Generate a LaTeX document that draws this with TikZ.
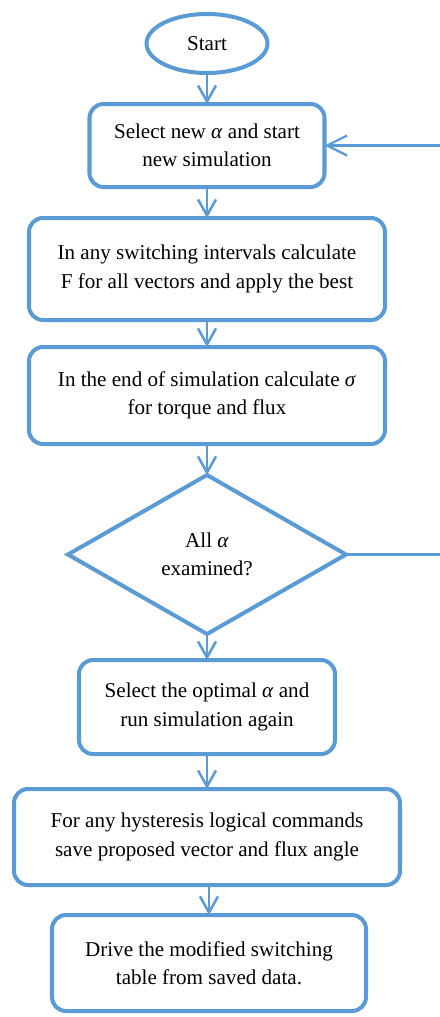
\documentclass[tikz,border=0pt]{standalone}
\usepackage{fontspec}
\setmainfont{Liberation Serif}
\usetikzlibrary{positioning, shapes.geometric, arrows.meta}
\definecolor{flowblue}{HTML}{5B9BD5}

\begin{document}
\begin{tikzpicture}[
  >={Straight Barb[length=4mm, width=4.5mm]},
  font=\fontsize{15}{20}\selectfont,
  every node/.style = {align=center, outer sep=0pt},
  proc/.style   = {draw=flowblue, line width=2.85pt, rectangle, rounded corners=3.5mm, inner sep=2pt},
  term/.style   = {draw=flowblue, line width=2.85pt, ellipse, minimum width=3.025cm, minimum height=1.475cm},
  cond/.style   = {draw=flowblue, line width=2.85pt, diamond, aspect=1.75, inner sep=0pt,
                   minimum width=6.95cm, minimum height=3.975cm},
  link/.style   = {draw=flowblue, line width=1.8pt},
  loop/.style   = {draw=flowblue, line width=1.6pt},
]
  \useasboundingbox (-5.175,1.0875) rectangle (5.825,-24.3375);

  \node[term] (start) {Start};
  \node[proc, below=0.775cm of start, minimum width=5.875cm, minimum height=2.075cm] (sel)
    {Select new \textit{α} and start\\ new simulation};
  \node[proc, below=0.775cm of sel, minimum width=8.9cm, minimum height=2.55cm] (calc)
    {In any switching intervals calculate\\ F for all vectors and apply the best};
  \node[proc, below=0.675cm of calc, minimum width=8.9cm, minimum height=2.425cm] (dev)
    {In the end of simulation calculate \textit{σ}\\ for torque and flux};
  \node[cond, below=0.775cm of dev] (dia) {All \textit{α}\\ examined?};
  \node[proc, below=0.65cm of dia, minimum width=6.4cm, minimum height=2.35cm] (opt)
    {Select the optimal \textit{α} and\\ run simulation again};
  \node[proc, below=0.875cm of opt, minimum width=9.65cm, minimum height=2.4cm] (save)
    {For any hysteresis logical commands\\ save proposed vector and flux angle};
  \node[proc, below=0.75cm of save, xshift=0.05cm, minimum width=7.85cm, minimum height=2.4cm] (table)
    {Drive the modified switching\\ table from saved data.};

  \draw[link, ->] (start) -- (sel);
  \draw[link, ->] (sel)   -- (calc);
  \draw[link, ->] (calc)  -- (dev);
  \draw[link, ->] (dev)   -- (dia);
  \draw[link, ->] (dia)   -- (opt);
  \draw[link, ->] (opt)   -- (save);
  \draw[link, ->] (save.south) -- (save.south -| table.north) -- (table.north);

  % loop back, runs off the right edge
  \coordinate (edge) at (5.825,0);
  \draw[loop] (dia.east) -- (dia.east -| edge);
  \draw[loop, {Straight Barb[length=5mm, width=5mm]}-] (sel.east) -- (sel.east -| edge);
\end{tikzpicture}
\end{document}
